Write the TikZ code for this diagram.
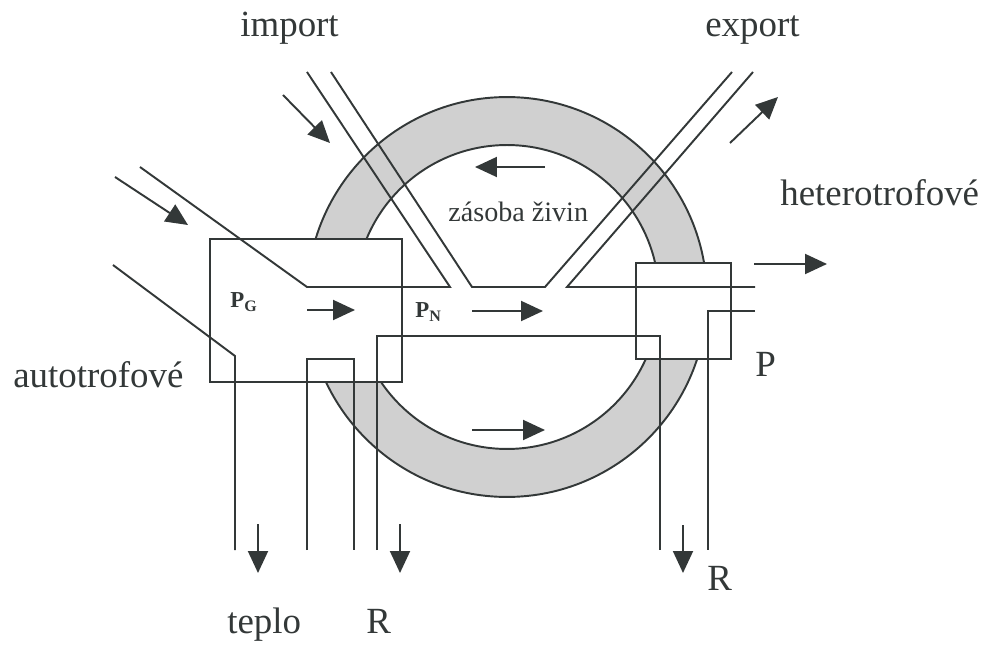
\documentclass[tikz,border=0pt]{standalone}
\usepackage{fontspec}
\setmainfont{Liberation Serif}
\usetikzlibrary{arrows.meta}
\definecolor{ink}{HTML}{333838}
\definecolor{ringgray}{HTML}{D0D0D0}
\begin{document}
\begin{tikzpicture}[
  x=0.02cm, y=-0.02cm,
  linka/.style={draw=ink, line width=1.1pt, line join=miter},
  blok/.style={draw=ink, fill=white, line width=1.1pt},
  sipka/.style={draw=ink, fill=ink, line width=1.1pt, -{Triangle[length=0.44cm, width=0.4cm]}},
  popis/.style={text=ink, font=\fontsize{21}{24}\selectfont, inner sep=0pt, anchor=base west},
  mensi/.style={popis, font=\fontsize{16}{19}\selectfont},
  tok/.style={popis, font=\fontsize{13}{15}\selectfont\bfseries}
]
\useasboundingbox (0,0) rectangle (988,645);

\coordinate (stred) at (507,297);
\fill[ringgray, even odd rule] (stred) circle[radius=4cm] (stred) circle[radius=3.04cm];
\draw[linka] (stred) circle[radius=4cm];
\draw[linka] (stred) circle[radius=3.04cm];

\draw[blok] (210,239) rectangle (402,382);
\draw[blok] (636,263) rectangle (731,359);

\coordinate (a1) at (140,167);
\coordinate (a2) at (307,287);
\coordinate (a3) at (450,287);
\coordinate (a4) at (307,72);
\coordinate (b1) at (331,72);
\coordinate (b2) at (472,287);
\coordinate (b3) at (545,287);
\coordinate (b4) at (732,72);
\coordinate (c1) at (753,72);
\coordinate (c2) at (567,287);
\coordinate (c3) at (755,287);
\coordinate (d1) at (755,311);
\coordinate (d2) at (708,311);
\coordinate (d3) at (708,550);
\coordinate (e1) at (113,265);
\coordinate (e2) at (235,356);
\coordinate (e3) at (235,550);
\coordinate (f1) at (377,550);
\coordinate (f2) at (377,336);
\coordinate (f3) at (660,336);
\coordinate (f4) at (660,550);
\coordinate (g1) at (307,550);
\coordinate (g2) at (307,359);
\coordinate (g3) at (354,359);
\coordinate (g4) at (354,550);

\draw[linka] (a1) -- (a2) -- (a3) -- (a4);
\draw[linka] (b1) -- (b2) -- (b3) -- (b4);
\draw[linka] (c1) -- (c2) -- (c3);
\draw[linka] (d1) -- (d2) -- (d3);
\draw[linka] (e1) -- (e2) -- (e3);
\draw[linka] (f1) -- (f2) -- (f3) -- (f4);
\draw[linka] (g1) -- (g2) -- (g3) -- (g4);

\coordinate (imp0) at (283,95);   \coordinate (imp1) at (330,143);
\coordinate (aut0) at (115,177);  \coordinate (aut1) at (188,225);
\coordinate (pg0) at (307,310);   \coordinate (pg1) at (355,310);
\coordinate (pn0) at (472,311);   \coordinate (pn1) at (543,311);
\coordinate (zh0) at (545,167);   \coordinate (zh1) at (475,167);
\coordinate (zd0) at (472,430);   \coordinate (zd1) at (545,430);
\coordinate (exp0) at (730,143);  \coordinate (exp1) at (778,97);
\coordinate (het0) at (754,264);  \coordinate (het1) at (827,264);
\coordinate (tep0) at (258,524);  \coordinate (tep1) at (258,573);
\coordinate (ra0) at (400,524);   \coordinate (ra1) at (400,573);
\coordinate (rb0) at (683,525);   \coordinate (rb1) at (683,573);

\draw[sipka] (imp0) -- (imp1);
\draw[sipka] (aut0) -- (aut1);
\draw[sipka] (pg0) -- (pg1);
\draw[sipka] (pn0) -- (pn1);
\draw[sipka] (zh0) -- (zh1);
\draw[sipka] (zd0) -- (zd1);
\draw[sipka] (exp0) -- (exp1);
\draw[sipka] (het0) -- (het1);
\draw[sipka] (tep0) -- (tep1);
\draw[sipka] (ra0) -- (ra1);
\draw[sipka] (rb0) -- (rb1);

\node[popis] (import) at (240,37) {import};
\node[popis] (export) at (705,37) {export};
\node[popis] (hetero) at (780,206) {heterotrofové};
\node[popis] (auto) at (13,388) {autotrofové};
\node[popis] (teplo) at (227,633) {teplo};
\node[popis] (rleft) at (366,633) {R};
\node[popis] (rright) at (707,590) {R};
\node[popis] (pp) at (755,377) {P};
\node[mensi] (zasoba) at (448,222) {zásoba živin};
\node[tok] (pg) at (230,308) {P\textsubscript{G}};
\node[tok] (pn) at (415,318) {P\textsubscript{N}};
\end{tikzpicture}
\end{document}
